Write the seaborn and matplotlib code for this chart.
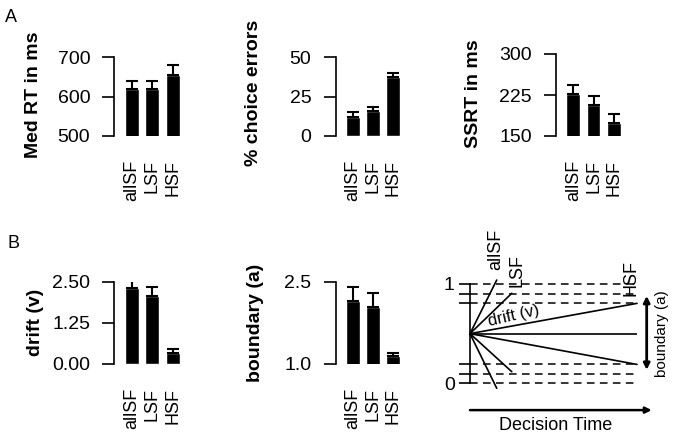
import numpy as np
import pandas as pd
import matplotlib
matplotlib.use('Agg')
import matplotlib.pyplot as plt
import seaborn as sns

# data
conds = ['allSF', 'LSF', 'HSF']
med_rt = [620, 620, 655]
med_rt_se = [20, 20, 25]
choice_err = [12.2, 15.6, 37.5]
choice_err_se = [3.0, 3.0, 2.5]
ssrt = [226, 206, 174]
ssrt_se = [17, 18, 16]
drift = [2.30, 2.07, 0.34]
drift_se = [0.23, 0.26, 0.12]
boundary = [2.15, 2.03, 1.15]
boundary_se = [0.26, 0.26, 0.05]

# schematic diffusion diagram (normalised units)
bound_upper = [1.0, 0.90, 0.805]
bound_lower = [0.0, 0.09, 0.19]
drift_end_t = [0.16, 0.25, 1.0]
drift_end_up = [1.04, 0.906, 0.805]
drift_end_lo = [-0.05, 0.117, 0.19]
start_point = 0.5

sns.set_style('ticks')
plt.rcParams['font.family'] = ['Liberation Sans', 'DejaVu Sans']
plt.rcParams.update({'axes.linewidth': 1.2, 'text.color': 'black',
                     'axes.labelcolor': 'black', 'axes.edgecolor': 'black',
                     'xtick.color': 'black', 'ytick.color': 'black'})

W, H = 675, 438
fig = plt.figure(figsize=(W / 100, H / 100), dpi=100)


def px_axes(l, r, t, b):
    return fig.add_axes([l / W, 1 - b / H, (r - l) / W, (b - t) / H])


def bar_panel(ax, vals, errs, ylim, ticks, ticklabels, ylabel, lab_xy):
    df = pd.DataFrame({'cond': conds, 'val': vals})
    sns.barplot(data=df, x='cond', y='val', color='black', width=0.68,
                saturation=1, ax=ax, errorbar=None)
    # only the upper half of the error bar shows above the black bar
    ax.errorbar(range(len(conds)), vals, yerr=[[0] * 3, errs], fmt='none',
                ecolor='black', elinewidth=1.5, capsize=4, capthick=1.5)
    ax.set_xlim(-0.5, 2.5)
    ax.set_ylim(*ylim)
    ax.set_yticks(ticks)
    ax.set_yticklabels(ticklabels)
    ax.set_xlabel('')
    ax.set_ylabel('')
    sns.despine(ax=ax, bottom=True, offset=5)
    ax.spines['left'].set_bounds(*ylim)
    ax.tick_params(axis='y', length=8.5, width=1.2, pad=9, labelsize=14)
    ax.tick_params(axis='x', length=0, pad=17, labelsize=13)
    for t in ax.get_xticklabels():
        t.set_rotation(90)
    fig.text(lab_xy[0] / W, 1 - lab_xy[1] / H, ylabel, rotation=90,
             ha='center', va='center', fontsize=14, fontweight='bold')


# row A: behaviour
ax1 = px_axes(121.4, 183, 57, 136)
bar_panel(ax1, med_rt, med_rt_se, (500, 700), [500, 600, 700],
          ['500', '600', '700'], 'Med RT in ms', (33.5, 95))
ax2 = px_axes(342.6, 403.2, 57, 136)
bar_panel(ax2, choice_err, choice_err_se, (0, 50), [0, 25, 50],
          ['0', '25', '50'], '% choice errors', (253.7, 92.5))
ax3 = px_axes(563.2, 623.8, 54, 136)
bar_panel(ax3, ssrt, ssrt_se, (150, 300), [150, 225, 300],
          ['150', '225', '300'], 'SSRT in ms', (473.7, 94))

# row B: diffusion model parameters
ax4 = px_axes(121.4, 183, 281.7, 364)
bar_panel(ax4, drift, drift_se, (0, 2.5), [0, 1.25, 2.5],
          ['0.00', '1.25', '2.50'], 'drift (v)', (35.5, 322.5))
ax5 = px_axes(342.6, 403.2, 281.7, 364)
bar_panel(ax5, boundary, boundary_se, (1.0, 2.5), [1.0, 2.5],
          ['1.0', '2.5'], 'boundary (a)', (255, 322.5))

# diffusion model sketch
ax6 = px_axes(470, 637, 284, 383.3)
ax6.set_xlim(0, 1)
ax6.set_ylim(0, 1)
for hi, lo in zip(bound_upper, bound_lower):
    for y in (hi, lo):
        ax6.plot([0, 1], [y, y], color='black', lw=1.1,
                 ls=(0, (5, 3.5)), clip_on=False)
for t, up, lo in zip(drift_end_t, drift_end_up, drift_end_lo):
    ax6.plot([0, t], [start_point, up], color='black', lw=1.2, clip_on=False)
    ax6.plot([0, t], [start_point, lo], color='black', lw=1.2, clip_on=False)
ax6.plot([0, 1], [start_point, start_point], color='black', lw=1.2)
ax6.set_xticks([])
ticks_b = sorted(bound_upper + bound_lower)
ax6.set_yticks(ticks_b)
ax6.set_yticklabels(['1' if v == 1 else '0' if v == 0 else '' for v in ticks_b])
ax6.tick_params(axis='y', length=8, width=1.2, pad=3, labelsize=14)
sns.despine(ax=ax6, bottom=True)
ax6.spines['left'].set_bounds(0, 1)

label_pos = [(0.156, 1.14), (0.28, 0.97), (0.964, 0.88)]
for name, (x, y) in zip(conds, label_pos):
    ax6.text(x, y, name, rotation=90, ha='center', va='bottom', fontsize=13,
             clip_on=False)
ax6.text(0.26, 0.68, 'drift (v)', rotation=13, ha='center', va='center',
         fontsize=12)
ax6.annotate('', xy=(1.058, 0.88), xytext=(1.058, 0.135),
             arrowprops=dict(arrowstyle='<|-|>', color='black', lw=2,
                             mutation_scale=9, shrinkA=0, shrinkB=0),
             annotation_clip=False)
ax6.text(1.15, 0.5, 'boundary (a)', rotation=90, ha='center', va='center',
         fontsize=11, clip_on=False)
ax6.annotate('', xy=(1.088, -0.27), xytext=(0, -0.27),
             arrowprops=dict(arrowstyle='-|>', color='black', lw=1.8,
                             mutation_scale=9, shrinkA=0, shrinkB=0),
             annotation_clip=False)
ax6.text(0.51, -0.42, 'Decision Time', ha='center', va='center', fontsize=13,
         clip_on=False)

fig.text(11 / W, 1 - 18 / H, 'A', ha='center', va='center', fontsize=13)
fig.text(13 / W, 1 - 244 / H, 'B', ha='center', va='center', fontsize=13)

fig.savefig('out.png', dpi=100)
